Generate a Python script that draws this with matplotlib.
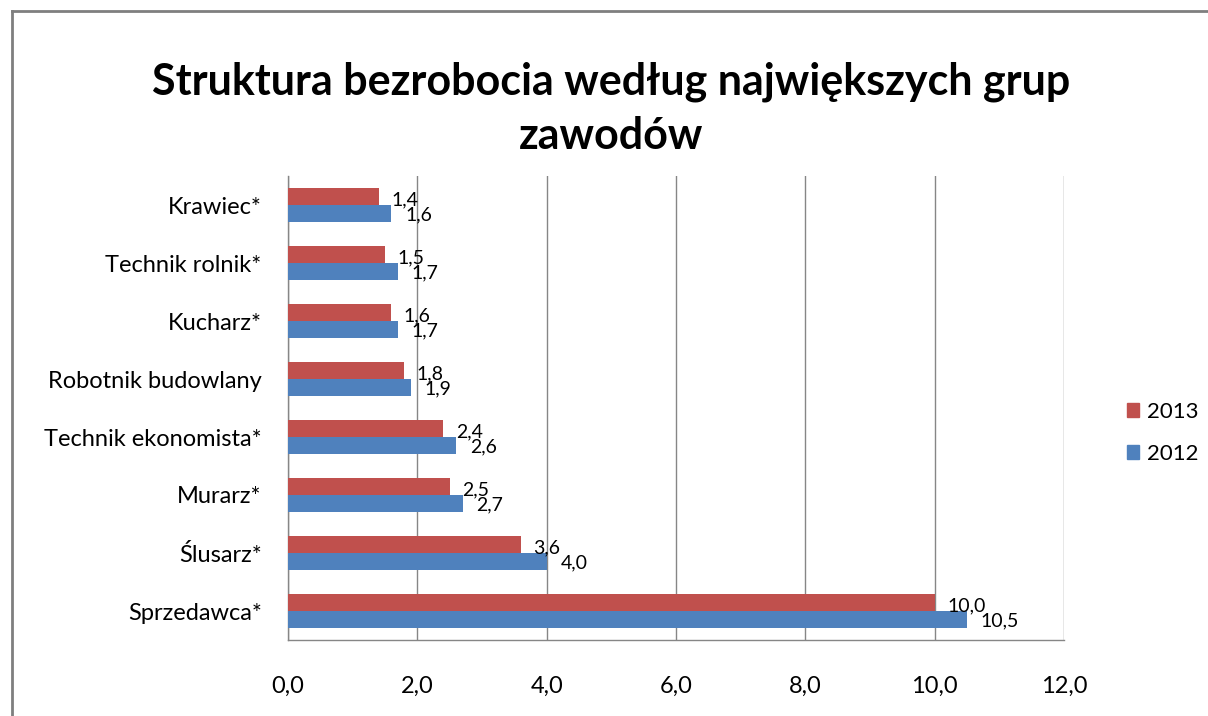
import matplotlib
matplotlib.use("Agg")
import matplotlib.pyplot as plt
from matplotlib.lines import Line2D
from matplotlib.patches import Patch

categories = ["Krawiec*", "Technik rolnik*", "Kucharz*", "Robotnik budowlany",
              "Technik ekonomista*", "Murarz*", "Ślusarz*", "Sprzedawca*"]
values_2013 = [1.4, 1.5, 1.6, 1.8, 2.4, 2.5, 3.6, 10.0]
values_2012 = [1.6, 1.7, 1.7, 1.9, 2.6, 2.7, 4.0, 10.5]
xticks = [0, 2, 4, 6, 8, 10, 12]

RED = "#C0504D"
BLUE = "#4F81BD"
GRID = "#868686"
FONT = ["Lato", "DejaVu Sans"]

fig = plt.figure(figsize=(12.08, 7.16), dpi=100)
ax = fig.add_axes([288/1208, 1-640/716, (1064-288)/1208, (640-176)/716])

h = 0.29
ys = list(range(len(categories)))
ax.barh([y - h/2 for y in ys], values_2013, height=h, color=RED, label="2013", zorder=3)
ax.barh([y + h/2 for y in ys], values_2012, height=h, color=BLUE, label="2012", zorder=3)

for y, v in zip(ys, values_2013):
    ax.annotate(f"{v:.1f}".replace(".", ","), (v, y - h/2 + 0.05), xytext=(9, 0),
                textcoords="offset points", va="center", ha="left",
                fontsize=14, family=FONT, color="black")
for y, v in zip(ys, values_2012):
    ax.annotate(f"{v:.1f}".replace(".", ","), (v, y + h/2 + 0.03), xytext=(10, 0),
                textcoords="offset points", va="center", ha="left",
                fontsize=14, family=FONT, color="black")

ax.set_xlim(0, 12)
ax.set_ylim(len(categories) - 0.5, -0.5)
ax.set_xticks(xticks)
ax.set_xticklabels([f"{t:.1f}".replace(".", ",") for t in xticks], family=FONT, fontsize=17)
ax.set_yticks(ys)
ax.set_yticklabels(categories, family=FONT, fontsize=17)
ax.tick_params(axis="x", length=0, pad=26)
ax.tick_params(axis="y", length=0, pad=19)
ax.grid(axis="x", color=GRID, linewidth=1.0, zorder=0)
for s in ["top", "right"]:
    ax.spines[s].set_visible(False)
for s in ["left", "bottom"]:
    ax.spines[s].set_color(GRID)
    ax.spines[s].set_linewidth(1.0)

handles = [Patch(color=RED, label="2013"), Patch(color=BLUE, label="2012")]
fig.legend(handles=handles, loc="center left", bbox_to_anchor=(1127/1208, 1-433/716),
           frameon=False, prop={"family": FONT, "size": 16}, handlelength=0.55,
           handleheight=0.6, handletextpad=0.35, labelspacing=1.0,
           borderpad=0, borderaxespad=0)

fig.text(611/1208, 1-82/716, "Struktura bezrobocia według największych grup",
         ha="center", va="center", fontsize=31, fontweight="bold", family=FONT)
fig.text(611/1208, 1-136/716, "zawodów",
         ha="center", va="center", fontsize=31, fontweight="bold", family=FONT)

# outer chart border (cut off at right and bottom)
fig.add_artist(Line2D([12/1208, 12/1208], [0, 1-11/716], transform=fig.transFigure,
                      color="#7f7f7f", linewidth=2))
fig.add_artist(Line2D([12/1208, 1], [1-11/716, 1-11/716], transform=fig.transFigure,
                      color="#7f7f7f", linewidth=2))

fig.savefig("out.png", dpi=100)
